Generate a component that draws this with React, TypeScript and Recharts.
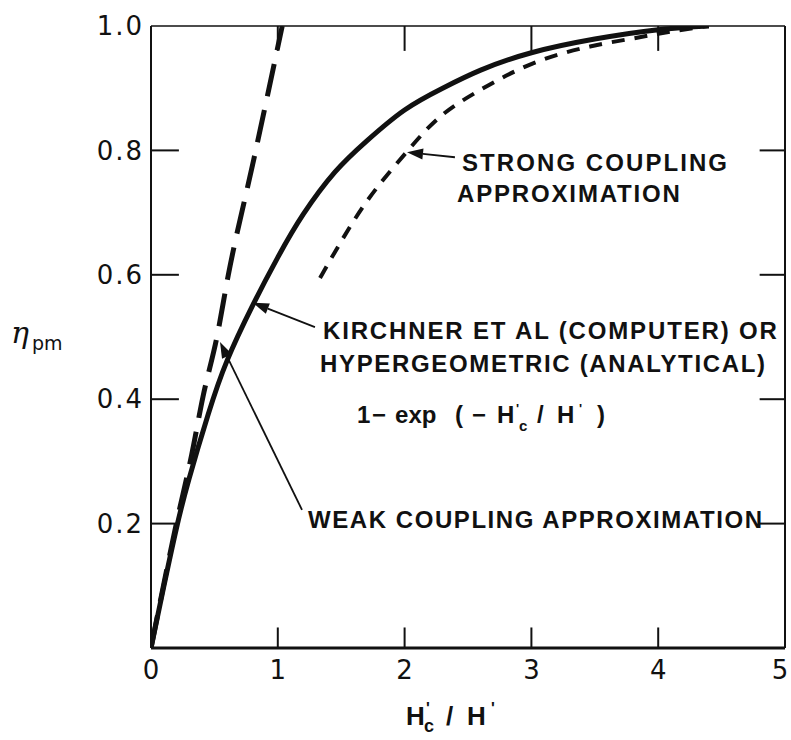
import React from "react";
import {
  LineChart,
  Line,
  XAxis,
  YAxis,
  ReferenceLine,
  ReferenceDot,
} from "recharts";

// H'c/H' sample points
const solidX = [0, 0.1, 0.2, 0.3, 0.45, 0.6, 0.8, 1.0, 1.2, 1.45, 1.7, 2.0, 2.3, 2.6, 3.0, 3.5, 4.0, 4.4];
const solidY = [0, 0.098, 0.192, 0.272, 0.375, 0.462, 0.55, 0.628, 0.697, 0.765, 0.815, 0.865, 0.9, 0.929, 0.957, 0.979, 0.994, 1.0];

const weakX = [0, 0.2, 0.32, 0.41, 0.52, 0.61, 0.81, 1.035];
const weakY = [0, 0.2, 0.31, 0.404, 0.5, 0.6, 0.785, 1.0];

const strongX = [1.333, 1.569, 1.782, 2.027, 2.279, 2.595, 3.013, 3.462, 3.801, 4.069, 4.385];
const strongY = [0.595, 0.677, 0.74, 0.8, 0.854, 0.897, 0.94, 0.967, 0.98, 0.99, 1.0];

const xTicks = [0, 1, 2, 3, 4, 5];
const yTicks = [0.2, 0.4, 0.6, 0.8, 1.0];
const innerXTicks = [1, 2, 3, 4];
const innerYTicks = [0.2, 0.4, 0.6, 0.8];

const strongText = ["STRONG COUPLING", "APPROXIMATION"];
const exactText = ["KIRCHNER ET AL (COMPUTER) OR", "HYPERGEOMETRIC (ANALYTICAL)"];
const weakText = "WEAK COUPLING APPROXIMATION";

const toRows = (xs: number[], ys: number[]) => xs.map((x, i) => ({ x, y: ys[i] }));
const solid = toRows(solidX, solidY);
const weak = toRows(weakX, weakY);
const strong = toRows(strongX, strongY);

const ink = "#111";
const noteStyle: React.CSSProperties = {
  fontFamily: "'Liberation Sans', Arial, sans-serif",
  fontWeight: 700,
  fontSize: 24,
  fill: ink,
};

// text label anchored at its left edge / vertical centre
const note = (text: string, width: number) => (p: any) => (
  <text
    x={p.viewBox.x}
    y={p.viewBox.y + 8.5}
    textLength={width}
    lengthAdjust="spacing"
    style={noteStyle}
  >
    {text}
  </text>
);

const arrow = (p: any) => {
  const { x1, y1, x2, y2 } = p;
  const dx = x2 - x1;
  const dy = y2 - y1;
  const len = Math.hypot(dx, dy) || 1;
  const ux = dx / len;
  const uy = dy / len;
  const hl = 16;
  const hw = 5.5;
  const bx = x2 - ux * hl;
  const by = y2 - uy * hl;
  return (
    <g>
      <line x1={x1} y1={y1} x2={bx} y2={by} stroke={ink} strokeWidth={1.8} />
      <polygon
        points={`${x2},${y2} ${bx - uy * hw},${by + ux * hw} ${bx + uy * hw},${by - ux * hw}`}
        fill={ink}
      />
    </g>
  );
};

const formula = (p: any) => {
  const x0 = p.viewBox.x;
  const y0 = p.viewBox.y + 8.5;
  return (
    <text x={x0} y={y0} style={{ ...noteStyle, fontWeight: 600 }}>
      <tspan x={x0}>1</tspan>
      <tspan x={x0 + 15}>−</tspan>
      <tspan x={x0 + 38}>exp</tspan>
      <tspan x={x0 + 98}>(</tspan>
      <tspan x={x0 + 115}>−</tspan>
      <tspan x={x0 + 140}>H</tspan>
      <tspan x={x0 + 159} dy={-10} fontSize={13}>'</tspan>
      <tspan x={x0 + 162} dy={18} fontSize={15}>c</tspan>
      <tspan x={x0 + 180} dy={-8}>/</tspan>
      <tspan x={x0 + 200}>H</tspan>
      <tspan x={x0 + 222} dy={-10} fontSize={13}>'</tspan>
      <tspan x={x0 + 240} dy={10}>)</tspan>
    </text>
  );
};

const XTick = (p: any) => (
  <text
    x={Math.min(p.x, 780)}
    y={p.y + 19}
    textAnchor="middle"
    style={{ fill: ink, fontSize: 26, fontFamily: "'DejaVu Sans', sans-serif" }}
  >
    {p.payload.value}
  </text>
);

const yTickFont = {
  fill: ink,
  fontSize: 26,
  fontFamily: "'DejaVu Sans', sans-serif",
  letterSpacing: 2,
};

export default function App() {
  return (
    <div style={{ position: "absolute", left: 0, top: 0, background: "#fff" }}>
      <LineChart width={791} height={740} margin={{ top: 26, right: 6, bottom: 0, left: 0 }}>
        <XAxis
          type="number"
          dataKey="x"
          domain={[0, 5]}
          ticks={xTicks}
          allowDataOverflow
          height={92}
          tickLine={false}
          tickSize={0}
          tickMargin={12}
          axisLine={{ stroke: ink, strokeWidth: 3 }}
          tick={<XTick />}
          label={{
            content: (p: any) => {
              const x0 = p.viewBox.x + 255;
              const y0 = p.viewBox.y + 77;
              return (
                <text x={x0} y={y0} style={{ ...noteStyle, fontWeight: 600, fontSize: 26 }}>
                  <tspan x={x0}>H</tspan>
                  <tspan x={x0 + 20} dy={-11} fontSize={16}>'</tspan>
                  <tspan x={x0 + 18} dy={18} fontSize={18}>c</tspan>
                  <tspan x={x0 + 40} dy={-7}>/</tspan>
                  <tspan x={x0 + 61}>H</tspan>
                  <tspan x={x0 + 85} dy={-11} fontSize={16}>'</tspan>
                </text>
              );
            },
          }}
        />
        <YAxis
          type="number"
          domain={[0, 1]}
          ticks={yTicks}
          allowDataOverflow
          width={151}
          tickLine={false}
          tickSize={0}
          tickMargin={7}
          axisLine={{ stroke: ink, strokeWidth: 2 }}
          tick={yTickFont}
          tickFormatter={(v: number) => v.toFixed(1)}
          label={{
            content: (p: any) => {
              const x0 = p.viewBox.x + 11;
              const y0 = p.viewBox.y + p.viewBox.height / 2 + 6;
              return (
                <text x={x0} y={y0} style={{ fill: ink, fontFamily: "'DejaVu Serif', serif", fontStyle: "italic", fontSize: 30 }}>
                  η
                  <tspan dx={3} dy={7} fontSize={19} fontStyle="normal" fontFamily="'DejaVu Sans', sans-serif">pm</tspan>
                </text>
              );
            },
          }}
        />

        {/* frame: top and right sides */}
        <ReferenceLine y={1} stroke={ink} strokeWidth={1.5} />
        <ReferenceLine x={5} stroke={ink} strokeWidth={2} />

        {/* inward ticks */}
        {innerYTicks.map((v) => (
          <ReferenceLine key={"l" + v} segment={[{ x: 0, y: v }, { x: 0.22, y: v }]} stroke={ink} strokeWidth={2} />
        ))}
        {innerYTicks.map((v) => (
          <ReferenceLine key={"r" + v} segment={[{ x: 4.8, y: v }, { x: 5, y: v }]} stroke={ink} strokeWidth={2} />
        ))}
        {innerXTicks.map((v) => (
          <ReferenceLine key={"t" + v} segment={[{ x: v, y: 1 }, { x: v, y: 0.96 }]} stroke={ink} strokeWidth={2} />
        ))}
        {innerXTicks.map((v) => (
          <ReferenceLine key={"b" + v} segment={[{ x: v, y: 0 }, { x: v, y: 0.033 }]} stroke={ink} strokeWidth={2} />
        ))}

        <Line
          data={weak}
          dataKey="y"
          type="monotone"
          stroke={ink}
          strokeWidth={5}
          strokeDasharray="33 14"
          dot={false}
          isAnimationActive={false}
        />
        <Line
          data={strong}
          dataKey="y"
          type="natural"
          stroke={ink}
          strokeWidth={4}
          strokeDasharray="13 10"
          dot={false}
          isAnimationActive={false}
        />
        <Line
          data={solid}
          dataKey="y"
          type="natural"
          stroke={ink}
          strokeWidth={5}
          dot={false}
          isAnimationActive={false}
        />

        {/* annotations */}
        <ReferenceDot x={2.453} y={0.781} r={0} fill="none" stroke="none" label={note(strongText[0], 265)} />
        <ReferenceDot x={2.413} y={0.7315} r={0} fill="none" stroke="none" label={note(strongText[1], 223)} />
        <ReferenceLine segment={[{ x: 2.397, y: 0.789 }, { x: 2.019, y: 0.797 }]} shape={arrow} />

        <ReferenceDot x={1.356} y={0.511} r={0} fill="none" stroke="none" label={note(exactText[0], 454)} />
        <ReferenceDot x={1.333} y={0.458} r={0} fill="none" stroke="none" label={note(exactText[1], 445)} />
        <ReferenceDot x={1.625} y={0.3746} r={0} fill="none" stroke="none" label={formula} />
        <ReferenceLine segment={[{ x: 1.293, y: 0.516 }, { x: 0.804, y: 0.555 }]} shape={arrow} />

        <ReferenceDot x={1.238} y={0.2058} r={0} fill="none" stroke="none" label={note(weakText, 454)} />
        <ReferenceLine segment={[{ x: 1.191, y: 0.222 }, { x: 0.544, y: 0.492 }]} shape={arrow} />
      </LineChart>
    </div>
  );
}
